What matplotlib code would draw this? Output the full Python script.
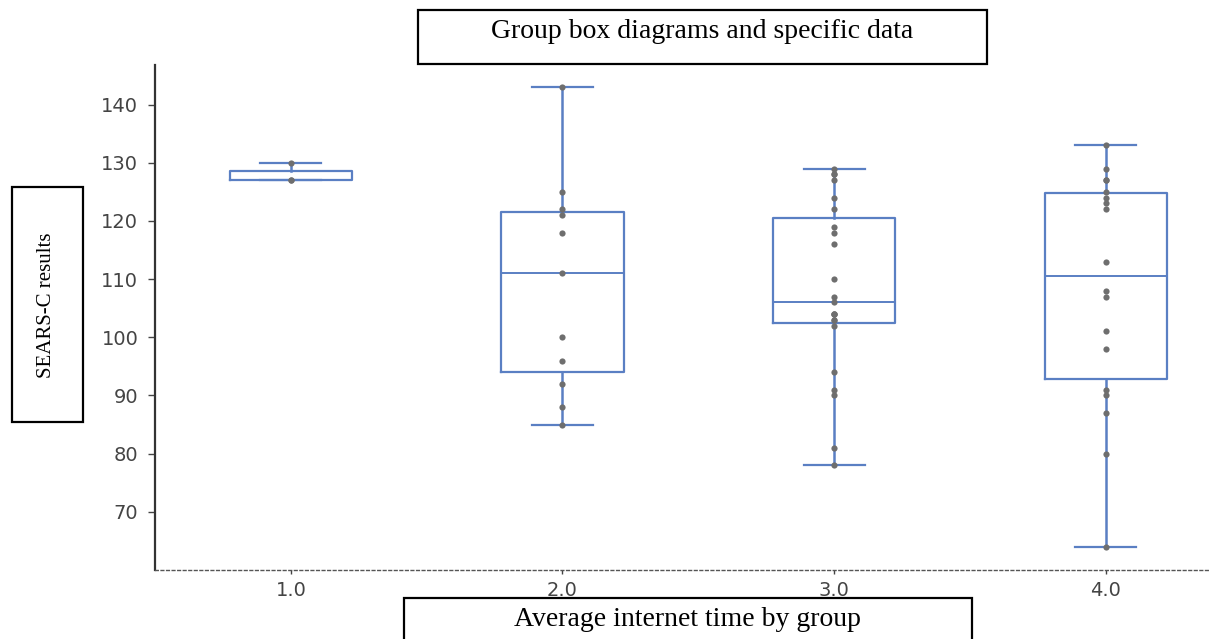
import matplotlib
matplotlib.use("Agg")
import matplotlib.pyplot as plt
from matplotlib.patches import Rectangle

# ---- data ----
categories = ["1.0", "2.0", "3.0", "4.0"]
group1 = [127, 127, 130]
group2 = [85, 88, 92, 96, 100, 111, 118, 121, 122, 125, 143]
group3 = [78, 81, 90, 91, 94, 102, 103, 103, 104, 104, 104, 106, 107, 110,
          116, 118, 119, 122, 124, 127, 128, 128, 129]
group4 = [64, 80, 87, 90, 91, 98, 101, 107, 108, 113, 122, 123, 124, 125,
          127, 127, 129, 133]
groups = [group1, group2, group3, group4]
yticks = [70, 80, 90, 100, 110, 120, 130, 140]

title_text = "Group box diagrams and specific data"
ylabel_text = "SEARS-C results"
xlabel_text = "Average internet time by group"

W, H = 1209, 639
fig = plt.figure(figsize=(W / 100, H / 100), dpi=100)
ax = fig.add_axes([155 / W, 1 - 570 / H, 1 - 155 / W, (570 - 65) / H])

box_color = "#5a7fc3"
positions = list(range(len(groups)))
ax.boxplot(groups, positions=positions, widths=0.45, whis=1.5,
           patch_artist=False, showfliers=False,
           boxprops=dict(color=box_color, linewidth=1.6),
           whiskerprops=dict(color=box_color, linewidth=1.8),
           capprops=dict(color=box_color, linewidth=1.6),
           medianprops=dict(color=box_color, linewidth=1.4))
for i, g in enumerate(groups):
    ax.scatter([i] * len(g), g, s=20, color="#6e6e6e", zorder=3, linewidths=0)

ax.set_xlim(-0.5, 3.38)
ax.set_ylim(60, 146.8)
ax.set_xticks(positions)
ax.set_xticklabels(categories)
ax.set_yticks(yticks)
ax.tick_params(axis="both", labelsize=14, colors="#444444", length=5, width=1)
ax.tick_params(axis="y", pad=7)
ax.tick_params(axis="x", length=3, pad=5)
for s in ["top", "right"]:
    ax.spines[s].set_visible(False)
ax.spines["left"].set_color("#333333")
ax.spines["left"].set_linewidth(1.6)
ax.spines["bottom"].set_color("#555555")
ax.spines["bottom"].set_linewidth(1.0)
ax.spines["bottom"].set_linestyle((0, (2, 2)))

serif = ["Liberation Serif", "DejaVu Serif"]

def framed(x0, y0, x1, y1, text, tx, ty, rot=0, size=15):
    fig.patches.append(Rectangle((x0 / W, 1 - y1 / H), (x1 - x0) / W, (y1 - y0) / H,
                                 transform=fig.transFigure, fill=False,
                                 edgecolor="black", linewidth=1.6))
    fig.text(tx / W, 1 - ty / H, text, ha="center", va="center", rotation=rot,
             family=serif, fontsize=size, color="black")

framed(418, 10, 987, 64, title_text, 702, 31, size=20)
framed(12, 187, 83, 422, ylabel_text, 47, 305, rot=90, size=15)
framed(404, 598, 972, 645, xlabel_text, 688, 620, size=20)

fig.savefig("out.png", dpi=100)
